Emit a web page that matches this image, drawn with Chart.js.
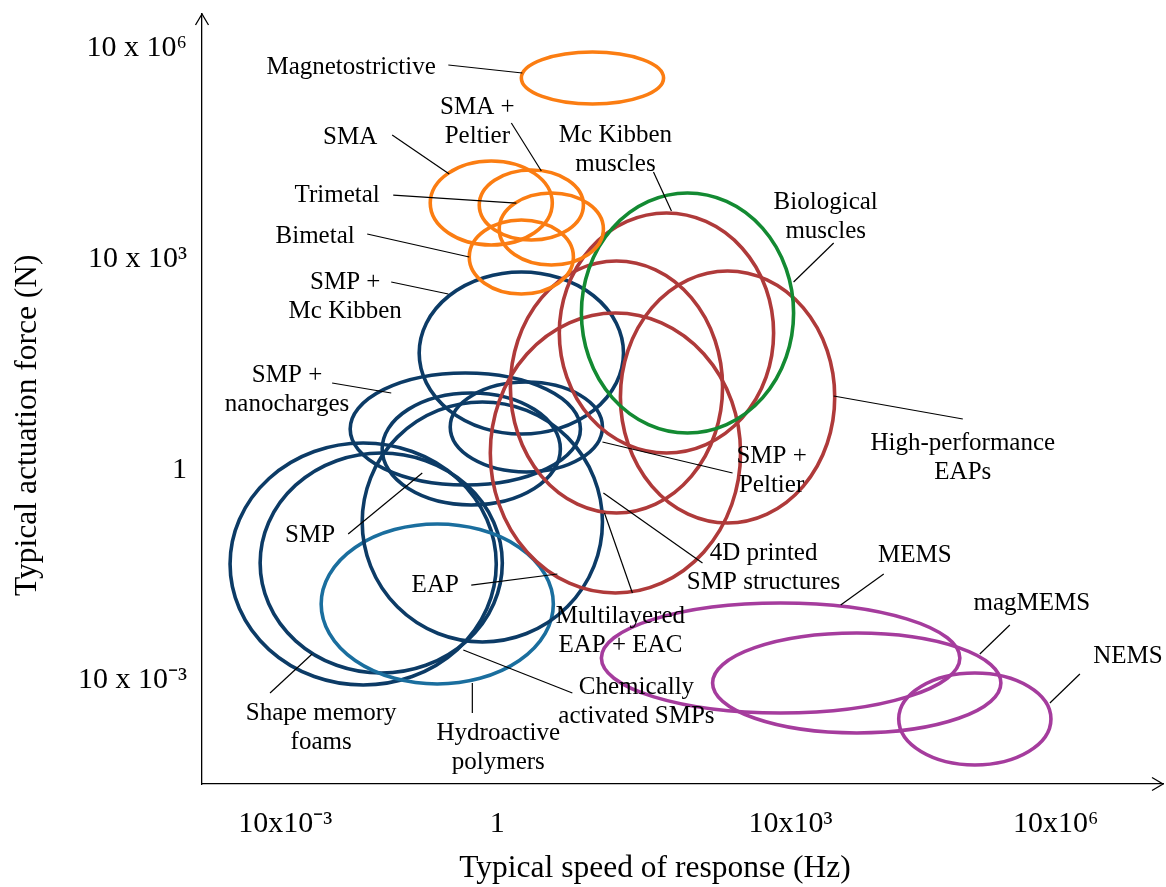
<!DOCTYPE html>
<html>
<head>
<meta charset="utf-8">
<script src="https://cdn.jsdelivr.net/npm/chart.js@4.4.1/dist/chart.umd.min.js"></script>
<style>
html,body{margin:0;padding:0;background:#fff;}
#wrap{width:1166px;height:887px;position:relative;}
</style>
</head>
<body>
<div id="wrap"><canvas id="c"></canvas></div>
<script>
const FONT = "'Times New Roman', 'Liberation Serif', serif";

// ---- categories (technologies) ----
const technologies = [
  'Shape memory foams', 'Chemically activated SMPs', 'Hydroactive polymers',
  '4D printed SMP structures', 'SMP', 'SMP + nanocharges', 'SMP + Peltier',
  'SMP + Mc Kibben', 'EAP', 'Multilayered EAP + EAC', 'Mc Kibben muscles',
  'High-performance EAPs', 'Biological muscles', 'Bimetal', 'Trimetal',
  'SMA + Peltier', 'SMA', 'Magnetostrictive', 'MEMS', 'magMEMS', 'NEMS'
];
const families = [
  'smp', 'smp', 'hydro', 'smp', 'smp', 'smp', 'smp', 'smp',
  'eap', 'eap', 'eap', 'eap', 'bio',
  'thermal', 'thermal', 'thermal', 'thermal', 'thermal',
  'mems', 'mems', 'mems'
];
// ---- series values (axis units: position along the speed / force axes) ----
const speedCenter = [16.77, 18.65, 24.48, 29.17, 28.02, 27.40, 33.75, 33.23, 43.02, 43.13, 48.33, 54.69, 50.52, 33.23, 36.35, 34.27, 30.10, 40.63, 60.21, 68.13, 80.42];
const speedSpread = [13.85, 12.60, 12.08, 12.50, 9.27, 11.98, 7.92, 10.63, 13.02, 11.04, 11.15, 11.15, 11.04, 5.42, 5.42, 5.42, 6.35, 7.40, 18.65, 15.00, 7.92];
const forceCenter = [28.57, 28.70, 23.38, 34.03, 43.51, 46.10, 46.36, 55.97, 42.99, 51.56, 58.57, 50.26, 61.17, 68.44, 72.08, 75.19, 75.45, 91.69, 16.36, 13.12, 8.44];
const forceSpread = [15.71, 14.29, 10.39, 15.58, 7.27, 7.27, 5.84, 10.52, 18.18, 16.36, 15.58, 16.36, 15.58, 4.81, 4.68, 4.55, 5.45, 3.38, 7.14, 6.49, 5.97];

// ---- tick labels ----
const xTickValues = [8.65, 30.73, 61.25, 88.85];
const xTickLabels = ['10x10\u207B\u00B3', '1', '10x10\u00B3', '10x10\u2076'];
const yTickValues = [95.58, 68.18, 40.78, 13.51];
const yTickLabels = ['10 x 10\u2076', '10 x 10\u00B3', '1', '10 x 10\u207B\u00B3'];
const xAxisTitle = 'Typical speed of response (Hz)';
const yAxisTitle = 'Typical actuation force (N)';

// ---- styles ----
const familyColors = {
  smp: '#0C3B66', hydro: '#1A6E9E', eap: '#AF3A3A', bio: '#138A32',
  thermal: '#FB7D12', mems: '#A53C9D'
};

// ---- callout annotations (text lines, text centre, leader from -> to, in axis units) ----
const callouts = [
  {t:['Magnetostrictive'], x:15.52, y:93.12, a:[25.63,93.38], b:[33.33,92.34]},
  {t:['SMA'], x:15.42, y:84.03, a:[19.79,84.29], b:[25.73,79.22]},
  {t:['SMA +','Peltier'], x:28.65, y:86.04, a:[32.19,85.84], b:[35.31,79.61]},
  {t:['Mc Kibben','muscles'], x:43.02, y:82.34, a:[46.98,79.48], b:[48.85,74.42]},
  {t:['Trimetal'], x:14.06, y:76.49, a:[19.90,76.49], b:[32.71,75.45]},
  {t:['Bimetal'], x:11.77, y:71.17, a:[17.19,71.43], b:[27.81,68.44]},
  {t:['SMP +','Mc Kibben'], x:14.90, y:63.25, a:[19.69,65.19], b:[25.63,63.64]},
  {t:['SMP +','nanocharges'], x:8.85, y:51.17, a:[13.54,52.08], b:[19.69,50.78]},
  {t:['SMP'], x:11.25, y:32.34, a:[15.21,32.47], b:[22.92,40.39]},
  {t:['EAP'], x:24.27, y:25.84, a:[28.02,25.84], b:[36.98,27.27]},
  {t:['Shape memory','foams'], x:12.40, y:7.34, a:[7.08,11.82], b:[11.46,16.88]},
  {t:['Hydroactive','polymers'], x:30.83, y:4.68, a:[28.13,9.22], b:[28.13,13.12]},
  {t:['Chemically','activated SMPs'], x:45.21, y:10.71, a:[38.54,11.82], b:[27.19,17.40]},
  {t:['Multilayered','EAP + EAC'], x:43.54, y:19.87, a:[44.79,24.81], b:[41.88,35.19]},
  {t:['4D printed','SMP structures'], x:58.44, y:28.12, a:[52.08,28.70], b:[41.77,37.79]},
  {t:['SMP +','Peltier'], x:59.27, y:40.65, a:[55.21,40.39], b:[41.67,44.42]},
  {t:['Biological','muscles'], x:64.90, y:73.64, a:[65.73,70.26], b:[61.56,65.19]},
  {t:['High-performance','EAPs'], x:79.17, y:42.40, a:[79.17,47.40], b:[65.73,50.39]},
  {t:['MEMS'], x:74.17, y:29.74, a:[70.94,27.27], b:[66.46,23.25]},
  {t:['magMEMS'], x:86.35, y:23.51, a:[84.06,20.65], b:[80.94,16.88]},
  {t:['NEMS'], x:96.35, y:16.62, a:[91.35,14.29], b:[88.23,10.52]}
];

const points = technologies.map((name, i) => ({
  x: speedCenter[i], y: forceCenter[i], rx: speedSpread[i], ry: forceSpread[i], fam: families[i], name
}));

const ellipsePlugin = {
  id: 'ellipses',
  afterDatasetsDraw(chart) {
    const {ctx} = chart;
    const xs = chart.scales.x, ys = chart.scales.y;
    ctx.save();
    chart.data.datasets[0].data.forEach(d => {
      const cx = xs.getPixelForValue(d.x), cy = ys.getPixelForValue(d.y);
      const rx = Math.abs(xs.getPixelForValue(d.x + d.rx) - cx);
      const ry = Math.abs(ys.getPixelForValue(d.y + d.ry) - cy);
      ctx.beginPath();
      ctx.ellipse(cx, cy, rx, ry, 0, 0, Math.PI * 2);
      ctx.strokeStyle = familyColors[d.fam];
      ctx.lineWidth = 3.6;
      ctx.stroke();
    });
    // leader lines and callout text
    ctx.strokeStyle = '#000';
    ctx.lineWidth = 1.2;
    ctx.fillStyle = '#000';
    ctx.font = '25px ' + FONT;
    ctx.textAlign = 'center';
    ctx.textBaseline = 'middle';
    callouts.forEach(c => {
      ctx.beginPath();
      ctx.moveTo(xs.getPixelForValue(c.a[0]), ys.getPixelForValue(c.a[1]));
      ctx.lineTo(xs.getPixelForValue(c.b[0]), ys.getPixelForValue(c.b[1]));
      ctx.stroke();
      const px = xs.getPixelForValue(c.x), py = ys.getPixelForValue(c.y);
      const lh = 29;
      c.t.forEach((line, i) => {
        ctx.fillText(line, px, py + (i - (c.t.length - 1) / 2) * lh);
      });
    });
    ctx.restore();
  },
  afterDraw(chart) {
    const {ctx, chartArea: a} = chart;
    ctx.save();
    // axis arrowheads
    ctx.strokeStyle = '#000';
    ctx.lineWidth = 1.3;
    ctx.beginPath();
    ctx.moveTo(a.left - 6.5, a.top + 11);
    ctx.lineTo(a.left, a.top);
    ctx.lineTo(a.left + 6.5, a.top + 11);
    ctx.moveTo(a.right - 11, a.bottom - 6.5);
    ctx.lineTo(a.right, a.bottom);
    ctx.lineTo(a.right - 11, a.bottom + 6.5);
    ctx.stroke();
    // axis titles
    ctx.fillStyle = '#000';
    ctx.font = '31.5px ' + FONT;
    ctx.textAlign = 'center';
    ctx.textBaseline = 'middle';
    ctx.fillText(xAxisTitle, a.left + (a.right - a.left) * 0.4714, a.bottom + 85);
    ctx.translate(28, a.top + (a.bottom - a.top) * 0.534);
    ctx.rotate(-Math.PI / 2);
    ctx.fillText(yAxisTitle, 0, 0);
    ctx.restore();
  }
};

new Chart(document.getElementById('c'), {
  type: 'scatter',
  data: {
    datasets: [{
      label: 'Actuators',
      data: points,
      pointRadius: 0,
      pointHoverRadius: 0,
      showLine: false
    }]
  },
  options: {
    responsive: true,
    maintainAspectRatio: false,
    animation: false,
    events: [],
    layout: {padding: {top: 14, right: 3, left: 0, bottom: 0}},
    plugins: {legend: {display: false}, tooltip: {enabled: false}, title: {display: false}},
    scales: {
      x: {
        type: 'linear', min: 0, max: 100,
        grid: {display: false, drawTicks: false, tickLength: 0},
        border: {display: true, color: '#000', width: 1.3},
        afterBuildTicks: s => { s.ticks = xTickValues.map(v => ({value: v})); },
        ticks: {
          autoSkip: false, maxRotation: 0, minRotation: 0, padding: 22, color: '#000',
          font: {family: FONT, size: 30},
          callback: (v, i) => xTickLabels[i]
        },
        title: {display: false},
        afterFit: s => { s.height = 103; s.paddingLeft = 0; s.paddingRight = 0; }
      },
      y: {
        type: 'linear', min: 0, max: 100,
        grid: {display: false, drawTicks: false, tickLength: 0},
        border: {display: true, color: '#000', width: 1.3},
        afterBuildTicks: s => { s.ticks = yTickValues.map(v => ({value: v})); },
        ticks: {
          autoSkip: false, padding: 15, color: '#000',
          font: {family: FONT, size: 30},
          callback: (v, i) => yTickLabels[i]
        },
        title: {display: false},
        afterFit: s => { s.width = 202; s.paddingTop = 0; s.paddingBottom = 0; }
      }
    }
  },
  plugins: [ellipsePlugin]
});
</script>
</body>
</html>
